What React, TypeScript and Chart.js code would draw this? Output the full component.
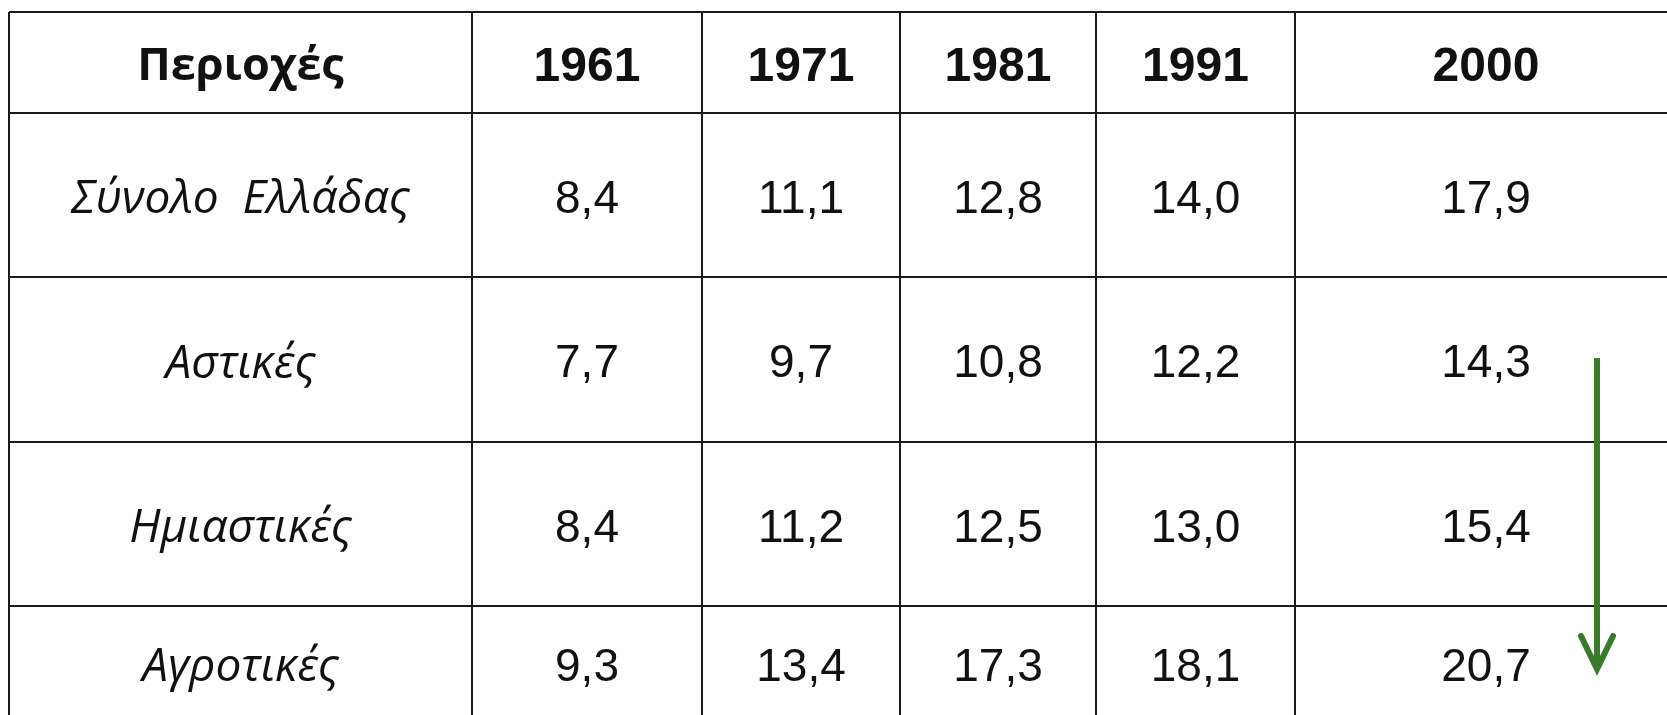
import { useEffect, useRef } from "react";
import { Chart, registerables } from "chart.js";

Chart.register(...registerables);

// ---- data ----
const HEADER_LABEL = "Περιοχές";
const YEARS = ["1961", "1971", "1981", "1991", "2000"];
const REGIONS = ["Σύνολο  Ελλάδας", "Αστικές", "Ημιαστικές", "Αγροτικές"];
const TOTAL = [8.4, 11.1, 12.8, 14.0, 17.9];
const URBAN = [7.7, 9.7, 10.8, 12.2, 14.3];
const SEMI_URBAN = [8.4, 11.2, 12.5, 13.0, 15.4];
const RURAL = [9.3, 13.4, 17.3, 18.1, 20.7];
const SERIES = [TOTAL, URBAN, SEMI_URBAN, RURAL];

// ---- layout (scale units = page pixels) ----
const W = 1667;
const H = 715;
const COL_EDGES = [9, 472, 702, 900, 1096, 1295, 1677];
const ROW_EDGES = [12, 113, 277, 442, 606, 720];
const TEXT_DY = 5;
const ARROW = { x: 1597, top: 358, bottom: 669, armDx: 16, armDy: 33 };

const LINE_COLOR = "#1a1a1a";
const TEXT_COLOR = "#111111";
const ARROW_COLOR = "#3a7a2d";

const colMid = (i: number) => (COL_EDGES[i] + COL_EDGES[i + 1]) / 2;
const rowMid = (i: number) => (ROW_EDGES[i] + ROW_EDGES[i + 1]) / 2;
const fmt = (v: number) => v.toFixed(1).replace(".", ",");

const tablePlugin = {
  id: "tableText",
  afterDatasetsDraw(chart: any) {
    const { ctx } = chart;
    const xs = chart.scales.x;
    const ys = chart.scales.y;
    ctx.save();
    ctx.fillStyle = TEXT_COLOR;
    ctx.textAlign = "center";
    ctx.textBaseline = "middle";

    // header row
    ctx.font = 'bold 45px "Open Sans"';
    ctx.fillText(HEADER_LABEL, xs.getPixelForValue(colMid(0)), ys.getPixelForValue(rowMid(0)) + TEXT_DY);
    ctx.font = 'bold 48px "Liberation Sans"';
    YEARS.forEach((yr, j) => {
      ctx.fillText(yr, xs.getPixelForValue(colMid(j + 1)), ys.getPixelForValue(rowMid(0)) + TEXT_DY);
    });

    // row labels
    ctx.font = 'italic 46px "Open Sans"';
    REGIONS.forEach((r, i) => {
      ctx.fillText(r, xs.getPixelForValue(colMid(0)), ys.getPixelForValue(rowMid(i + 1)) + TEXT_DY);
    });

    // cell values, placed at the dataset points
    ctx.font = '46px "Liberation Sans"';
    chart.data.datasets.forEach((ds: any, di: number) => {
      const meta = chart.getDatasetMeta(di);
      meta.data.forEach((el: any, j: number) => {
        ctx.fillText(fmt(ds.data[j].v), el.x, el.y + TEXT_DY);
      });
    });

    // green arrow
    const ax = xs.getPixelForValue(ARROW.x);
    const at = ys.getPixelForValue(ARROW.top);
    const ab = ys.getPixelForValue(ARROW.bottom);
    ctx.strokeStyle = ARROW_COLOR;
    ctx.lineWidth = 6;
    ctx.lineCap = "butt";
    ctx.beginPath();
    ctx.moveTo(ax, at);
    ctx.lineTo(ax, ab - 3);
    ctx.stroke();
    ctx.lineCap = "round";
    ctx.lineJoin = "miter";
    ctx.beginPath();
    ctx.moveTo(ax - ARROW.armDx, ab - ARROW.armDy);
    ctx.lineTo(ax, ab);
    ctx.lineTo(ax + ARROW.armDx, ab - ARROW.armDy);
    ctx.stroke();
    ctx.restore();
  },
};

export default function App() {
  const canvasRef = useRef<HTMLCanvasElement | null>(null);

  useEffect(() => {
    if (!canvasRef.current) return;
    const datasets = SERIES.map((vals, i) => ({
      label: REGIONS[i],
      data: vals.map((v, j) => ({ x: colMid(j + 1), y: rowMid(i + 1), v })),
      pointRadius: 0,
      showLine: false,
    }));

    const chart = new Chart(canvasRef.current, {
      type: "scatter",
      data: { datasets },
      options: {
        animation: false,
        responsive: true,
        maintainAspectRatio: false,
        devicePixelRatio: 1,
        layout: { padding: { left: COL_EDGES[0], top: ROW_EDGES[0], right: 0, bottom: 0 } },
        plugins: {
          legend: { display: false },
          tooltip: { enabled: false },
        },
        scales: {
          x: {
            type: "linear",
            min: COL_EDGES[0],
            max: W,
            afterBuildTicks: (scale: any) => {
              scale.ticks = COL_EDGES.map((value) => ({ value }));
            },
            ticks: { display: false },
            grid: { color: LINE_COLOR, lineWidth: 2, drawTicks: false },
            border: { display: false },
          },
          y: {
            type: "linear",
            reverse: true,
            min: ROW_EDGES[0],
            max: H,
            afterBuildTicks: (scale: any) => {
              scale.ticks = ROW_EDGES.map((value) => ({ value }));
            },
            ticks: { display: false },
            grid: { color: LINE_COLOR, lineWidth: 2, drawTicks: false },
            border: { display: false },
          },
        },
      } as any,
      plugins: [tablePlugin],
    });
    return () => chart.destroy();
  }, []);

  return (
    <div style={{ position: "absolute", left: 0, top: 0, width: W, height: H, background: "#fff" }}>
      <canvas ref={canvasRef} />
    </div>
  );
}
